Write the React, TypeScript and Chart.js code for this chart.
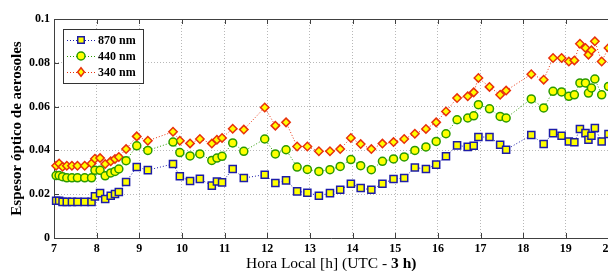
import React, { useEffect, useRef } from 'react';
import { Chart, registerables } from 'chart.js';

Chart.register(...registerables);

const hours = [7.05, 7.12, 7.2, 7.3, 7.42, 7.55, 7.72, 7.88, 7.96, 8.08, 8.2, 8.33, 8.43, 8.52, 8.69, 8.94, 9.2, 9.79, 9.95, 10.19, 10.42, 10.7, 10.82, 10.94, 11.19, 11.45, 11.94, 12.19, 12.44, 12.7, 12.94, 13.21, 13.47, 13.71, 13.96, 14.19, 14.44, 14.7, 14.96, 15.21, 15.46, 15.72, 15.96, 16.19, 16.45, 16.7, 16.84, 16.95, 17.21, 17.46, 17.6, 18.19, 18.48, 18.7, 18.9, 19.07, 19.2, 19.33, 19.46, 19.53, 19.6, 19.68, 19.84, 20.0];

const aod870 = [0.017, 0.017, 0.0165, 0.0165, 0.0165, 0.0165, 0.0165, 0.0165, 0.019, 0.0205, 0.0178, 0.0193, 0.0201, 0.021, 0.0256, 0.0324, 0.031, 0.0338, 0.0282, 0.026, 0.027, 0.0239, 0.0258, 0.0254, 0.0315, 0.0274, 0.0289, 0.0251, 0.0263, 0.0213, 0.0207, 0.0193, 0.0205, 0.022, 0.0248, 0.0228, 0.022, 0.0248, 0.0269, 0.0274, 0.0322, 0.0315, 0.0335, 0.0373, 0.0423, 0.0416, 0.0421, 0.0461, 0.0461, 0.0426, 0.0403, 0.047, 0.0429, 0.0479, 0.0467, 0.0441, 0.0437, 0.0498, 0.0479, 0.0449, 0.0467, 0.0502, 0.0441, 0.0475];

const aod440 = [0.0285, 0.0285, 0.028, 0.0275, 0.0275, 0.0275, 0.0275, 0.0275, 0.0309, 0.0309, 0.0284, 0.0297, 0.0304, 0.0315, 0.0353, 0.0421, 0.04, 0.0438, 0.039, 0.0375, 0.0384, 0.0354, 0.0365, 0.0373, 0.0434, 0.0396, 0.0452, 0.0384, 0.0403, 0.0324, 0.0313, 0.0304, 0.0312, 0.0327, 0.0358, 0.033, 0.0312, 0.035, 0.0361, 0.037, 0.04, 0.0416, 0.0441, 0.0476, 0.054, 0.0548, 0.0558, 0.0609, 0.059, 0.0555, 0.0548, 0.0635, 0.0594, 0.067, 0.0667, 0.0647, 0.0654, 0.0708, 0.0708, 0.0662, 0.0685, 0.0726, 0.0654, 0.0692];

const aod340 = [0.033, 0.034, 0.0325, 0.033, 0.033, 0.033, 0.033, 0.034, 0.0362, 0.0365, 0.0338, 0.035, 0.0361, 0.037, 0.0406, 0.0464, 0.0444, 0.0485, 0.0444, 0.0432, 0.0452, 0.0431, 0.0449, 0.0457, 0.0499, 0.0495, 0.0596, 0.0513, 0.0528, 0.0418, 0.0418, 0.0396, 0.0396, 0.0406, 0.0457, 0.0429, 0.0406, 0.0431, 0.0438, 0.0452, 0.0476, 0.0498, 0.0528, 0.0578, 0.0639, 0.0647, 0.0665, 0.0731, 0.069, 0.0654, 0.0673, 0.0748, 0.0723, 0.0822, 0.0822, 0.0806, 0.0811, 0.0887, 0.0868, 0.0837, 0.0857, 0.0898, 0.0806, 0.0868];

const xTickValues = [7, 8, 9, 10, 11, 12, 13, 14, 15, 16, 17, 18, 19, 20];
const yTickValues = [0, 0.02, 0.04, 0.06, 0.08, 0.1];
const yTickLabels = ['0', '0.02', '0.04', '0.06', '0.08', '0.1'];
const seriesLabels = ['870 nm', '440 nm', '340 nm'];
const xTitleRegular = 'Hora Local [h] (UTC - ';
const xTitleBold = '3 h)';
const yTitle = 'Espesor óptico de aerosoles';

const SERIF = '"Liberation Serif", "Times New Roman", serif';
const YELLOW = '#ffff00';
const COLORS = ['#1c1ca8', '#2a9a00', '#e8300c'];
const STYLES = ['rect', 'circle', 'rectRot'];
const RADII = [4.6, 4, 4.2];
const CANVAS_W = 615;

function drawMarker(ctx: CanvasRenderingContext2D, style: string, x: number, y: number, r: number, color: string) {
  ctx.save();
  ctx.fillStyle = YELLOW;
  ctx.strokeStyle = color;
  ctx.lineWidth = 1.5;
  ctx.setLineDash([]);
  ctx.beginPath();
  if (style === 'rect') {
    const s = r * Math.SQRT1_2;
    ctx.rect(x - s, y - s, 2 * s, 2 * s);
  } else if (style === 'circle') {
    ctx.arc(x, y, r, 0, Math.PI * 2);
  } else {
    ctx.moveTo(x, y - r);
    ctx.lineTo(x + r * 0.8, y);
    ctx.lineTo(x, y + r);
    ctx.lineTo(x - r * 0.8, y);
    ctx.closePath();
  }
  ctx.fill();
  ctx.stroke();
  ctx.restore();
}

const framePlugin = {
  id: 'frame',
  afterDraw(chart: any) {
    const { ctx, chartArea, scales } = chart;
    const { left, top, right, bottom } = chartArea;
    const x = scales.x;
    const y = scales.y;
    ctx.save();
    ctx.strokeStyle = '#404040';
    ctx.lineWidth = 1;
    ctx.setLineDash([]);
    ctx.beginPath();
    ctx.moveTo(left, Math.round(top) + 0.5);
    ctx.lineTo(right + 10, Math.round(top) + 0.5);
    xTickValues.forEach((v) => {
      const px = Math.round(x.getPixelForValue(v)) + 0.5;
      ctx.moveTo(px, bottom);
      ctx.lineTo(px, bottom - 5);
      ctx.moveTo(px, top);
      ctx.lineTo(px, top + 5);
    });
    yTickValues.forEach((v) => {
      const py = Math.round(y.getPixelForValue(v)) + 0.5;
      ctx.moveTo(left, py);
      ctx.lineTo(left + 5, py);
    });
    ctx.stroke();

    // legend box
    const lx = 63.5, ly = 29.5, lw = 80, lh = 54;
    ctx.fillStyle = '#ffffff';
    ctx.fillRect(lx, ly, lw, lh);
    ctx.strokeStyle = '#333333';
    ctx.strokeRect(lx, ly, lw, lh);
    seriesLabels.forEach((label, i) => {
      const cy = 40 + i * 16;
      ctx.save();
      ctx.strokeStyle = COLORS[i];
      ctx.lineWidth = 1;
      ctx.setLineDash([1, 2]);
      ctx.beginPath();
      ctx.moveTo(67, cy + 0.5);
      ctx.lineTo(95, cy + 0.5);
      ctx.stroke();
      ctx.restore();
      drawMarker(ctx, STYLES[i], 81, cy, RADII[i], COLORS[i]);
      ctx.fillStyle = '#000';
      ctx.font = `bold 12px ${SERIF}`;
      ctx.textAlign = 'left';
      ctx.textBaseline = 'middle';
      ctx.fillText(label, 98, cy + 1);
    });

    // x title (mixed weight)
    ctx.fillStyle = '#000';
    ctx.textBaseline = 'alphabetic';
    ctx.textAlign = 'left';
    ctx.font = `15.5px ${SERIF}`;
    const w1 = ctx.measureText(xTitleRegular).width;
    ctx.font = `bold 15.5px ${SERIF}`;
    const w2 = ctx.measureText(xTitleBold).width;
    const cx = (left + right) / 2;
    const sx = cx - (w1 + w2) / 2;
    ctx.font = `15.5px ${SERIF}`;
    ctx.fillText(xTitleRegular, sx, 268);
    ctx.font = `bold 15.5px ${SERIF}`;
    ctx.fillText(xTitleBold, sx + w1, 268);

    // y title
    ctx.save();
    ctx.translate(17, (top + bottom) / 2);
    ctx.rotate(-Math.PI / 2);
    ctx.font = `bold 15px ${SERIF}`;
    ctx.textAlign = 'center';
    ctx.textBaseline = 'middle';
    ctx.fillText(yTitle, 0, 0);
    ctx.restore();
    ctx.restore();
  },
};

export default function App() {
  const ref = useRef<HTMLCanvasElement | null>(null);
  useEffect(() => {
    if (!ref.current) return;
    const series = [aod870, aod440, aod340];
    const chart = new Chart(ref.current, {
      type: 'line',
      data: {
        datasets: series.map((vals, i) => ({
          label: seriesLabels[i],
          data: hours.map((h, j) => ({ x: h, y: vals[j] })),
          borderColor: COLORS[i],
          borderWidth: 1,
          borderDash: [1, 2],
          backgroundColor: YELLOW,
          pointStyle: STYLES[i] as any,
          pointRadius: STYLES[i] === 'rect' ? 5 : RADII[i],
          pointBorderWidth: 1.5,
          pointBorderColor: COLORS[i],
          pointBackgroundColor: YELLOW,
          tension: 0,
          clip: false as any,
        })),
      },
      options: {
        responsive: false,
        maintainAspectRatio: false,
        animation: false,
        layout: { padding: { left: 0, right: 1, top: 19, bottom: 0 } },
        plugins: { legend: { display: false }, tooltip: { enabled: false }, title: { display: false } },
        scales: {
          x: {
            type: 'linear',
            min: 7,
            max: 20,
            afterBuildTicks: (s: any) => { s.ticks = xTickValues.map((v) => ({ value: v })); },
            grid: { color: '#b8b8b8', drawTicks: false, lineWidth: 1 },
            border: { color: '#404040', dash: [1, 2] },
            ticks: {
              color: '#000',
              font: { family: SERIF, size: 12, weight: 'bold' },
              padding: 4,
              maxRotation: 0,
              autoSkip: false,
              callback: (v: any) => String(v),
            },
            afterFit: (s: any) => { s.height = 33; s.paddingLeft = 0; s.paddingRight = 0; },
          },
          y: {
            type: 'linear',
            min: 0,
            max: 0.1,
            afterBuildTicks: (s: any) => { s.ticks = yTickValues.map((v) => ({ value: v })); },
            grid: { color: '#b8b8b8', drawTicks: false, lineWidth: 1 },
            border: { color: '#404040', dash: [1, 2] },
            ticks: {
              color: '#000',
              font: { family: SERIF, size: 12, weight: 'bold' },
              padding: 4,
              callback: (_v: any, i: number) => yTickLabels[i],
            },
            afterFit: (s: any) => { s.width = 54; s.paddingTop = 0; s.paddingBottom = 0; },
          },
        },
      },
      plugins: [framePlugin],
    } as any);
    return () => chart.destroy();
  }, []);
  return (
    <div style={{ position: 'fixed', left: 0, top: 0, width: 608, height: 271, overflow: 'hidden', background: '#fff' }}>
      <canvas ref={ref} width={CANVAS_W} height={271} style={{ width: CANVAS_W, height: 271, display: 'block' }} />
    </div>
  );
}
